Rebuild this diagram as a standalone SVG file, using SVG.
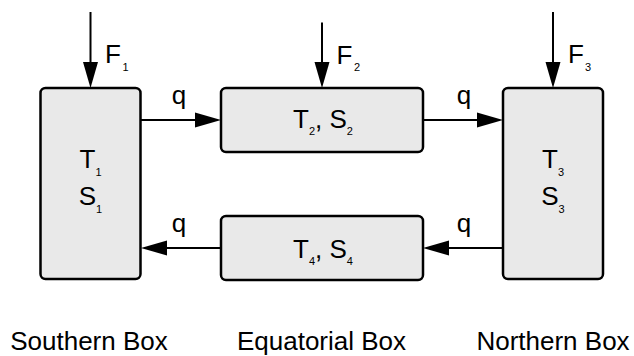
<svg xmlns="http://www.w3.org/2000/svg" width="634" height="356" viewBox="0 0 634 356">
<defs>
<style>
.box{fill:#e9e9e9;stroke:#000;stroke-width:2.5}
.ln{fill:none;stroke:#000;stroke-width:2;marker-end:url(#ah)}
text{font-family:"Liberation Sans",Arial,sans-serif;font-size:26px;fill:#000}
.c{text-anchor:middle}
.sub{font-size:11px}
</style>
<marker id="ah" viewBox="0 0 26 16" refX="16" refY="8" markerWidth="26" markerHeight="16" markerUnits="userSpaceOnUse" orient="auto">
<path d="M0,0.5 L26,8 L0,15.5 Z" fill="#000"/>
</marker>
</defs>
<g id="southern">
<rect class="box" x="40.5" y="88" width="100" height="191" rx="5"/>
<text class="c" x="90.5" y="168">T<tspan class="sub" dy="7.5">1</tspan></text>
<text class="c" x="90.5" y="205">S<tspan class="sub" dy="7.5">1</tspan></text>
</g>
<g id="equatorial-top">
<rect class="box" x="221" y="88" width="202" height="64" rx="5"/>
<text class="c" x="323" y="127.5">T<tspan class="sub" dy="7.5">2</tspan><tspan dy="-7.5">, S</tspan><tspan class="sub" dy="7.5">2</tspan></text>
</g>
<g id="equatorial-bottom">
<rect class="box" x="221" y="216" width="202" height="64" rx="5"/>
<text class="c" x="323" y="257.5">T<tspan class="sub" dy="7.5">4</tspan><tspan dy="-7.5">, S</tspan><tspan class="sub" dy="7.5">4</tspan></text>
</g>
<g id="northern">
<rect class="box" x="503" y="88" width="100" height="191" rx="5"/>
<text class="c" x="553" y="168">T<tspan class="sub" dy="7.5">3</tspan></text>
<text class="c" x="553" y="205">S<tspan class="sub" dy="7.5">3</tspan></text>
</g>
<g id="connectors">
<line class="ln" x1="90.5" y1="12" x2="90.5" y2="78"/>
<line class="ln" x1="322" y1="22.5" x2="322" y2="78"/>
<line class="ln" x1="553" y1="12" x2="553" y2="78"/>
<line class="ln" x1="141" y1="120" x2="211" y2="120"/>
<line class="ln" x1="423" y1="120" x2="493" y2="120"/>
<line class="ln" x1="503" y1="248" x2="433" y2="248"/>
<line class="ln" x1="221" y1="248" x2="151" y2="248"/>
<text x="105" y="63">F<tspan class="sub" dx="1.5" dy="7.5">1</tspan></text>
<text x="336.5" y="64">F<tspan class="sub" dx="1.5" dy="7">2</tspan></text>
<text x="568" y="63">F<tspan class="sub" dx="1" dy="7.5">3</tspan></text>
<text class="c" x="179" y="103.5">q</text>
<text class="c" x="464" y="103.5">q</text>
<text class="c" x="179" y="231.5">q</text>
<text class="c" x="464" y="231.5">q</text>
</g>
<g id="labels">
<text class="c" x="89" y="350">Southern Box</text>
<text class="c" x="321.5" y="350">Equatorial Box</text>
<text class="c" x="553" y="350">Northern Box</text>
</g>
</svg>
